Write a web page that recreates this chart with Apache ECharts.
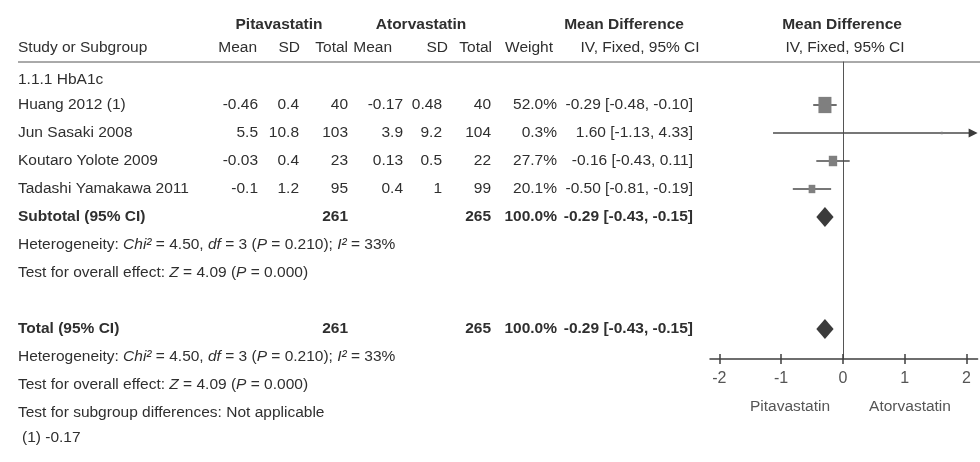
<!DOCTYPE html>
<html>
<head>
<meta charset="utf-8">
<script src="https://cdn.jsdelivr.net/npm/echarts@6/dist/echarts.min.js"></script>
<style>
  html, body { margin: 0; padding: 0; background: #fff; }
  #chart { width: 980px; height: 462px; }
</style>
</head>
<body>
<div id="chart"></div>
<script>
// ---- study data: HbA1c, pitavastatin vs atorvastatin ----
const studies   = ['Huang 2012 (1)', 'Jun Sasaki 2008', 'Koutaro Yolote 2009', 'Tadashi Yamakawa 2011'];
const pitaMean  = [-0.46, 5.5, -0.03, -0.1];
const pitaSD    = [0.4, 10.8, 0.4, 1.2];
const pitaN     = [40, 103, 23, 95];
const atorMean  = [-0.17, 3.9, 0.13, 0.4];
const atorSD    = [0.48, 9.2, 0.5, 1];
const atorN     = [40, 104, 22, 99];
const weights   = [52.0, 0.3, 27.7, 20.1];
const meanDiff  = [-0.29, 1.60, -0.16, -0.50];
const ciLow     = [-0.48, -1.13, -0.43, -0.81];
const ciHigh    = [-0.10, 4.33, 0.11, -0.19];

// pooled (fixed effect) estimate, used for subtotal and total
const pooledMD    = -0.29;
const pooledLow   = -0.43;
const pooledHigh  = -0.15;
const pooledPitaN = 261;
const pooledAtorN = 265;
const pooledWeight = 100.0;

const tickValues = [-2, -1, 0, 1, 2];

// ---- layout / style ----
const FONT = '"Liberation Sans", Arial, sans-serif';
const TEXT = '#2f2f2f';
const FS = 15.5;
const COL = { name: 18, noteName: 22, pMean: 258, pSD: 299, pN: 348, aMean: 403, aSD: 442, aN: 491, weight: 557, ci: 693 };
const ROW = { group: 0.1, study: 1, subtotal: 5, het1: 6, test1: 7, total: 9, het2: 10, test2: 11, sub: 12, note: 12.9 };

const fmtCI = (m, l, h) => m.toFixed(2) + ' [' + l.toFixed(2) + ', ' + h.toFixed(2) + ']';

const hetText = '{n|Heterogeneity: }{i|Chi²}{n| = 4.50, }{i|df}{n| = 3 (}{i|P}{n| = 0.210); }{i|I²}{n| = 33%}';
const testText = '{n|Test for overall effect: }{i|Z}{n| = 4.09 (}{i|P}{n| = 0.000)}';

// rows of the table
const tableRows = [];
tableRows.push({ row: ROW.group, cells: [['name', '1.1.1 HbA1c']] });
studies.forEach((s, i) => {
  tableRows.push({
    row: ROW.study + i,
    cells: [
      ['name', s], ['pMean', String(pitaMean[i])], ['pSD', String(pitaSD[i])], ['pN', String(pitaN[i])],
      ['aMean', String(atorMean[i])], ['aSD', String(atorSD[i])], ['aN', String(atorN[i])],
      ['weight', weights[i].toFixed(1) + '%'], ['ci', fmtCI(meanDiff[i], ciLow[i], ciHigh[i])]
    ]
  });
});
const pooledCells = label => [
  ['name', label], ['pN', String(pooledPitaN)], ['aN', String(pooledAtorN)],
  ['weight', pooledWeight.toFixed(1) + '%'], ['ci', fmtCI(pooledMD, pooledLow, pooledHigh)]
];
tableRows.push({ row: ROW.subtotal, bold: true, cells: pooledCells('Subtotal (95% CI)') });
tableRows.push({ row: ROW.het1, rich: true, cells: [['name', hetText]] });
tableRows.push({ row: ROW.test1, rich: true, cells: [['name', testText]] });
tableRows.push({ row: ROW.total, bold: true, cells: pooledCells('Total (95% CI)') });
tableRows.push({ row: ROW.het2, rich: true, cells: [['name', hetText]] });
tableRows.push({ row: ROW.test2, rich: true, cells: [['name', testText]] });
tableRows.push({ row: ROW.sub, cells: [['name', 'Test for subgroup differences: Not applicable']] });
tableRows.push({ row: ROW.note, cells: [['noteName', '(1) -0.17']] });

const richStyles = {
  n: { fontSize: FS, fontFamily: FONT, fill: TEXT, color: TEXT },
  i: { fontSize: FS, fontFamily: FONT, fontStyle: 'italic', fill: TEXT, color: TEXT }
};

const chart = echarts.init(document.getElementById('chart'), null, { renderer: 'canvas' });

function renderTable(params, api) {
  const r = tableRows[api.value(2)];
  const y = api.coord([0, r.row])[1];
  return {
    type: 'group',
    children: r.cells.map(([col, txt]) => ({
      type: 'text',
      style: Object.assign({
        x: COL[col], y: y, text: txt,
        align: (col === 'name' || col === 'noteName') ? 'left' : 'right',
        verticalAlign: 'middle',
        fontSize: FS, fontFamily: FONT,
        fontWeight: r.bold ? 'bold' : 'normal',
        fill: TEXT
      }, r.rich ? { rich: richStyles } : {})
    }))
  };
}

function renderStudy(params, api) {
  const cs = params.coordSys;
  const right = cs.x + cs.width, left = cs.x;
  const c = api.coord([api.value(0), api.value(1)]);
  let lo = api.coord([api.value(2), api.value(1)])[0];
  let hi = api.coord([api.value(3), api.value(1)])[0];
  const w = api.value(4);
  const children = [];
  const overR = hi > right, overL = lo < left;
  hi = Math.min(hi, right - (overR ? 8 : 0));
  lo = Math.max(lo, left + (overL ? 8 : 0));
  children.push({ type: 'line', shape: { x1: lo, y1: c[1], x2: hi, y2: c[1] },
    style: { stroke: '#4a4a4a', lineWidth: 1.6 } });
  if (overR) {
    children.push({ type: 'polygon', shape: { points: [[right - 9, c[1] - 4.5], [right, c[1]], [right - 9, c[1] + 4.5]] },
      style: { fill: '#3a3a3a' } });
  }
  const bw = Math.max(2, 13 * Math.pow(w / 52, 0.7));
  const bh = bw * 1.25;
  children.push({ type: 'rect', shape: { x: c[0] - bw / 2, y: c[1] - bh / 2, width: bw, height: bh },
    style: { fill: '#7f7f7f' } });
  return { type: 'group', children };
}

function renderDiamond(params, api) {
  const c = api.coord([api.value(0), api.value(1)]);
  const lo = api.coord([api.value(2), api.value(1)])[0];
  const hi = api.coord([api.value(3), api.value(1)])[0];
  const h = 10;
  return {
    type: 'polygon',
    shape: { points: [[lo, c[1]], [c[0], c[1] - h], [hi, c[1]], [c[0], c[1] + h]] },
    style: { fill: '#3b3b3b' }
  };
}

const gridTop = 62, gridBottomPx = 359;
const pxPerRow = 28;
const yMin = ROW.study - (105 - gridTop) / pxPerRow;
const yMax = ROW.study + (gridBottomPx - 105) / pxPerRow;

const headerStyle = (text, x, y, align, bold) => ({
  type: 'text', x: x, y: y,
  style: { text, fontSize: FS, fontFamily: FONT, fontWeight: bold ? 'bold' : 'normal',
    fill: TEXT, align, verticalAlign: 'middle' }
});

chart.setOption({
  animation: false,
  backgroundColor: '#ffffff',
  grid: { left: 710, right: 2.4, top: gridTop, bottom: 462 - gridBottomPx, containLabel: false },
  xAxis: [
    {
      type: 'value', min: -2.15, max: 2.18, position: 'bottom',
      axisLine: { show: true, onZero: false, lineStyle: { color: '#3f3f3f', width: 1.5 } },
      axisTick: { show: true, customValues: tickValues, length: 5, lineStyle: { color: '#3f3f3f', width: 1.5 } },
      axisLabel: { show: true, customValues: tickValues, margin: 12, fontSize: 16, fontFamily: FONT, color: '#555' },
      splitLine: { show: false }
    },
    {
      type: 'value', min: -2.15, max: 2.18, position: 'bottom',
      axisLine: { show: false, onZero: false },
      axisTick: { show: true, inside: true, customValues: tickValues, length: 5, lineStyle: { color: '#3f3f3f', width: 1.5 } },
      axisLabel: { show: false },
      splitLine: { show: false }
    }
  ],
  yAxis: {
    type: 'value', inverse: true, min: yMin, max: yMax,
    axisLine: { show: true, onZero: true, lineStyle: { color: '#555', width: 1 } },
    axisTick: { show: false }, axisLabel: { show: false }, splitLine: { show: false }
  },
  series: [
    {
      type: 'custom', name: 'table', clip: false, silent: true,
      renderItem: renderTable,
      data: tableRows.map((r, i) => [0, r.row, i])
    },
    {
      type: 'custom', name: 'studies', clip: false, silent: true,
      renderItem: renderStudy,
      data: studies.map((s, i) => [meanDiff[i], ROW.study + i, ciLow[i], ciHigh[i], weights[i]])
    },
    {
      type: 'custom', name: 'pooled', clip: false, silent: true,
      renderItem: renderDiamond,
      data: [
        [pooledMD, ROW.subtotal, pooledLow, pooledHigh],
        [pooledMD, ROW.total, pooledLow, pooledHigh]
      ]
    }
  ],
  graphic: [
    headerStyle('Pitavastatin', 279, 25, 'center', true),
    headerStyle('Atorvastatin', 421, 25, 'center', true),
    headerStyle('Mean Difference', 624, 25, 'center', true),
    headerStyle('Mean Difference', 842, 25, 'center', true),
    headerStyle('Study or Subgroup', 18, 48, 'left'),
    headerStyle('Mean', 257, 48, 'right'),
    headerStyle('SD', 300, 48, 'right'),
    headerStyle('Total', 348, 48, 'right'),
    headerStyle('Mean', 392, 48, 'right'),
    headerStyle('SD', 448, 48, 'right'),
    headerStyle('Total', 492, 48, 'right'),
    headerStyle('Weight', 553, 48, 'right'),
    headerStyle('IV, Fixed, 95% CI', 640, 48, 'center'),
    headerStyle('IV, Fixed, 95% CI', 845, 48, 'center'),
    { type: 'line', shape: { x1: 18, y1: gridTop, x2: 980, y2: gridTop }, style: { stroke: '#555', lineWidth: 1 } },
    { type: 'text', x: 790, y: 407, style: { text: 'Pitavastatin', fontSize: FS, fontFamily: FONT, fill: '#555', align: 'center', verticalAlign: 'middle' } },
    { type: 'text', x: 910, y: 407, style: { text: 'Atorvastatin', fontSize: FS, fontFamily: FONT, fill: '#555', align: 'center', verticalAlign: 'middle' } }
  ]
});
</script>
</body>
</html>
